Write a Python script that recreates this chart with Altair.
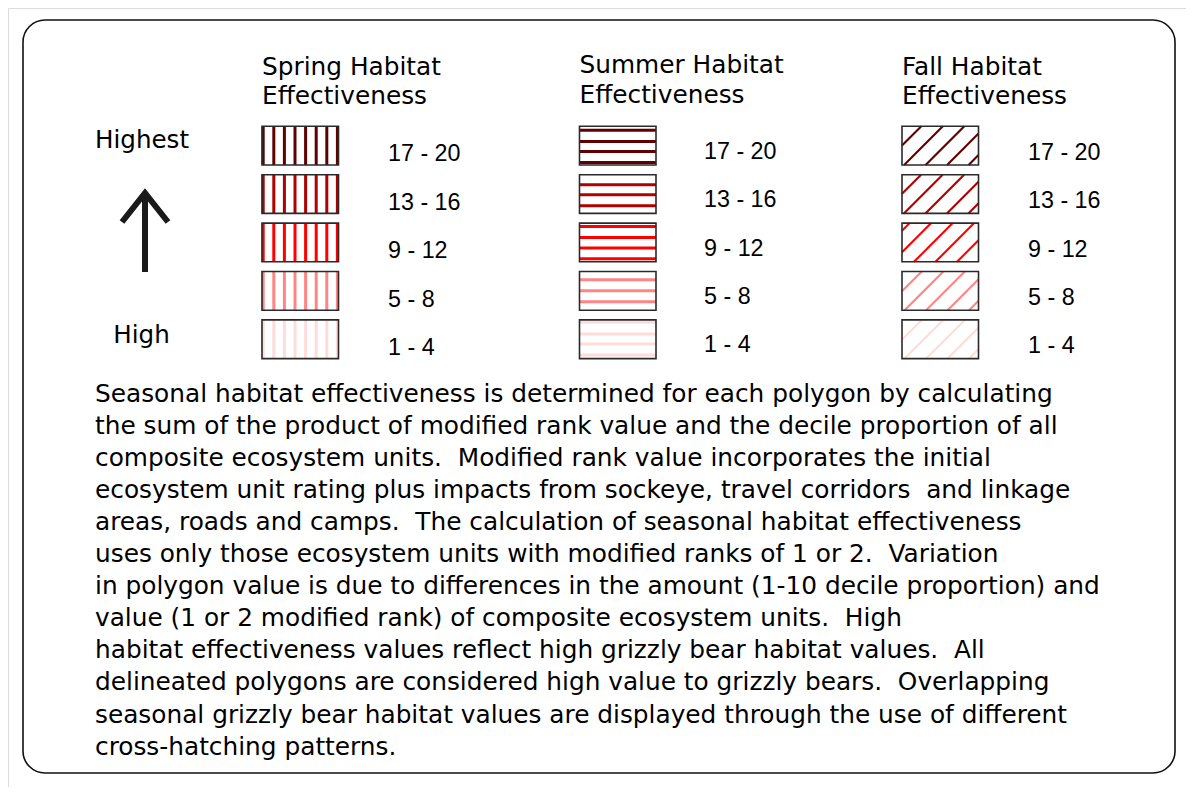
import altair as alt
import pandas as pd

# ---------------- data ----------------
seasons = ["Spring", "Summer", "Fall"]
classes = ["17 - 20", "13 - 16", "9 - 12", "5 - 8", "1 - 4"]
class_colors = ["#600000", "#b00000", "#ff0000", "#ff8585", "#ffdcdc"]
scale_labels = ["Highest", "High"]
body_lines = [
    "Seasonal habitat effectiveness is determined for each polygon by calculating",
    "the sum of the product of modified rank value and the decile proportion of all",
    "composite ecosystem units.\u00a0 Modified rank value incorporates the initial",
    "ecosystem unit rating plus impacts from sockeye, travel corridors\u00a0 and linkage",
    "areas, roads and camps.\u00a0 The calculation of seasonal habitat effectiveness",
    "uses only those ecosystem units with modified ranks of 1 or 2.\u00a0 Variation",
    "in polygon value is due to differences in the amount (1-10 decile proportion) and",
    "value (1 or 2 modified rank) of composite ecosystem units.\u00a0 High",
    "habitat effectiveness values reflect high grizzly bear habitat values.\u00a0 All",
    "delineated polygons are considered high value to grizzly bears.\u00a0 Overlapping",
    "seasonal grizzly bear habitat values are displayed through the use of different",
    "cross-hatching patterns.",
]

# ---------------- layout ----------------
W, H = 1178, 779
FONT = "DejaVu Sans"
LABEL_FONT = "Liberation Sans"
season_x = [262, 579.5, 902]
label_x = [388, 704, 1028]
label_base = [35.0, 32.5, 33.5]
head_base = [(74.8, 103.5), (73.3, 103.3), (75, 104.2)]
BOX_W, BOX_H = 76.5, 38.7
ROW0, ROW_STEP = 126.3, 48.4
summer_offsets = [[4, 15.3, 25.3, 36.3], [10, 20, 31], [3.3, 14.3, 25, 35.7],
                  [8.3, 19.3, 30.3], [2.4, 14, 24, 35]]
fall_phase = [19.3, 19.1, 7.7, 19.8, 19.8]
FALL_STEP = 21.5

boxes, hatch, texts = [], [], []
for si, s in enumerate(seasons):
    x0 = season_x[si]
    texts.append(dict(t=f"{s} Habitat", x=x0, y=head_base[si][0], size=24.8,
                      align="left", font=FONT))
    texts.append(dict(t="Effectiveness", x=x0, y=head_base[si][1], size=24.8,
                      align="left", font=FONT))
    for ci, (c, col) in enumerate(zip(classes, class_colors)):
        y0 = ROW0 + ci * ROW_STEP
        y1 = y0 + BOX_H
        x1 = x0 + BOX_W
        boxes.append(dict(x=x0, x2=x1, y=y0, y2=y1))
        texts.append(dict(t=c, x=label_x[si], y=y0 + label_base[si], size=23.3,
                          align="left", font=LABEL_FONT))
        if s == "Spring":
            for k in range(8):
                xx = x0 + 1.2 + k * 10.6
                hatch.append(dict(x=xx, x2=xx, y=y0, y2=y1, color=col, sw=3))
        elif s == "Summer":
            for off in summer_offsets[ci]:
                hatch.append(dict(x=x0, x2=x1, y=y0 + off, y2=y0 + off, color=col, sw=3))
        else:
            d = fall_phase[ci]
            while d < BOX_W + BOX_H:
                if d - BOX_H >= 0:
                    ax, ay = x0 + d - BOX_H, y1
                else:
                    ax, ay = x0, y0 + d
                if d <= BOX_W:
                    bx, by = x0 + d, y0
                else:
                    bx, by = x1, y0 + d - BOX_W
                hatch.append(dict(x=ax, x2=bx, y=ay, y2=by, color=col, sw=2.1))
                d += FALL_STEP

texts.append(dict(t=scale_labels[0], x=142, y=148.3, size=24.6, align="center", font=FONT))
texts.append(dict(t=scale_labels[1], x=141.5, y=342.7, size=24.6, align="center", font=FONT))
for i, line in enumerate(body_lines):
    texts.append(dict(t=line, x=95, y=401.5 + i * 32.1, size=24.8, align="left", font=FONT))

boxes_df = pd.DataFrame(boxes)
hatch_df = pd.DataFrame(hatch)
texts_df = pd.DataFrame(texts)

xs = alt.Scale(domain=[8, 8 + W], range=[0, W], nice=False, zero=False)
ys = alt.Scale(domain=[8, 8 + H], range=[0, H], nice=False, zero=False)

def X(f="x"):
    return alt.X(f"{f}:Q", scale=xs, axis=None)

def Y(f="y"):
    return alt.Y(f"{f}:Q", scale=ys, axis=None)

frame_df = pd.DataFrame([dict(x=23, x2=1175, y=20, y2=773)])
frame = alt.Chart(frame_df).mark_rect(
    fill="white", fillOpacity=0, stroke="#111", strokeWidth=1.6, cornerRadius=22
).encode(x=X(), x2="x2:Q", y=Y(), y2="y2:Q")

box_fill = alt.Chart(boxes_df).mark_rect(fill="white").encode(
    x=X(), x2="x2:Q", y=Y(), y2="y2:Q")
box_edge = alt.Chart(boxes_df).mark_rect(
    fillOpacity=0, stroke="#2a2a2a", strokeWidth=1.6).encode(
    x=X(), x2="x2:Q", y=Y(), y2="y2:Q")

hatch_layer = alt.Chart(hatch_df).mark_rule(strokeCap="butt").encode(
    x=X(), x2="x2:Q", y=Y(), y2="y2:Q",
    color=alt.Color("color:N", scale=None),
    strokeWidth=alt.StrokeWidth("sw:Q", scale=None),
)

arrow_shaft = alt.Chart(pd.DataFrame([dict(x=145, y=194, y2=272)])).mark_rule(
    color="#1a1a1a", strokeWidth=6).encode(x=X(), y=Y(), y2="y2:Q")
arrow_head = alt.Chart(pd.DataFrame([dict(x=122, y=222, o=0), dict(x=145, y=193, o=1),
                                     dict(x=168, y=222, o=2)])).mark_line(
    color="#1a1a1a", strokeWidth=6, strokeJoin="miter").encode(
    x=X(), y=Y(), order="o:Q")

def text_layer(align, font):
    return alt.Chart(texts_df).transform_filter(
        f"datum.align == '{align}' && datum.font == '{font}'"
    ).mark_text(font=font, baseline="alphabetic", color="black", align=align).encode(
        x=X(), y=Y(), text="t:N", size=alt.Size("size:Q", scale=None))

chart = alt.layer(
    frame, box_fill, hatch_layer, box_edge, arrow_shaft, arrow_head,
    text_layer("left", FONT), text_layer("center", FONT), text_layer("left", LABEL_FONT)
).properties(width=W, height=H, padding=0, autosize="none").configure_view(
    strokeWidth=0).configure(background="white")

chart.save("out.html", embed_options={"renderer": "svg", "actions": False})
